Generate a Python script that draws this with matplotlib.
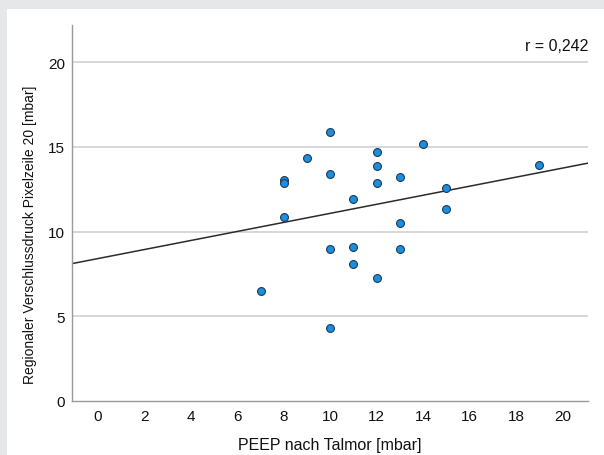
import numpy as np
import matplotlib
matplotlib.use("Agg")
import matplotlib.pyplot as plt
from matplotlib.patches import Rectangle

plt.rcParams['font.family'] = ['Liberation Sans', 'DejaVu Sans']

peep = [7, 8, 8, 8, 9, 10, 10, 10, 10, 11, 11, 11, 12, 12, 12, 12, 13, 13, 13, 14, 15, 15, 19]
pressure = [6.48, 13.04, 12.89, 10.86, 14.34, 15.88, 13.42, 8.95, 4.33, 11.94, 9.10, 8.10,
            14.70, 13.89, 12.87, 7.25, 13.20, 10.52, 9.00, 15.17, 12.59, 11.35, 13.93]
fit_intercept = 8.41
fit_slope = 0.267
r_label = "r = 0,242"
xticks = [0, 2, 4, 6, 8, 10, 12, 14, 16, 18, 20]
yticks = [0, 5, 10, 15, 20]

fig = plt.figure(figsize=(6.04, 4.56), dpi=100)
fig.patch.set_facecolor('#e6e7e9')
fig.patches.append(Rectangle((7/604, 0), 1, (456-10)/456, transform=fig.transFigure,
                             facecolor='white', edgecolor='none', zorder=-10))

ax = fig.add_axes([72/604, 54/456, 516/604, 376/456])
ax.set_zorder(5)
ax.set_facecolor('white')
xlim = (-1.12, 21.1)
ax.set_xlim(*xlim)
ax.set_ylim(0, 22.2)

for yv in yticks[1:]:
    ax.axhline(yv, color='#d4d4d4', lw=1.3, zorder=1)

xs = np.array(xlim)
ax.plot(xs, fit_intercept + fit_slope * xs, color='#2b2b2b', lw=1.1, zorder=2)

ax.scatter(peep, pressure, s=32, facecolor='#1a8ee0', edgecolor='#1c3a57', linewidth=0.8, zorder=3)

ax.set_xticks(xticks)
ax.set_yticks(yticks)
ax.tick_params(axis='x', length=0, labelsize=11, colors='#111111', pad=6)
ax.tick_params(axis='y', length=0, labelsize=11, colors='#111111', pad=5)
for s in ['top', 'right']:
    ax.spines[s].set_visible(False)
for s in ['left', 'bottom']:
    ax.spines[s].set_color('#9a9a9a')
    ax.spines[s].set_linewidth(1.0)

ax.set_xlabel("PEEP nach Talmor [mbar]", fontsize=11.5, color='#111111', labelpad=10)
ax.set_ylabel("Regionaler Verschlussdruck Pixelzeile 20 [mbar]", fontsize=10, color='#111111')
ax.yaxis.set_label_coords(-35/516, (402 - 235) / 376)

ax.text(21.1, 21.0, r_label, ha='right', va='center', fontsize=11.5, color='#111111')

fig.savefig("out.png", dpi=100, facecolor=fig.get_facecolor())
